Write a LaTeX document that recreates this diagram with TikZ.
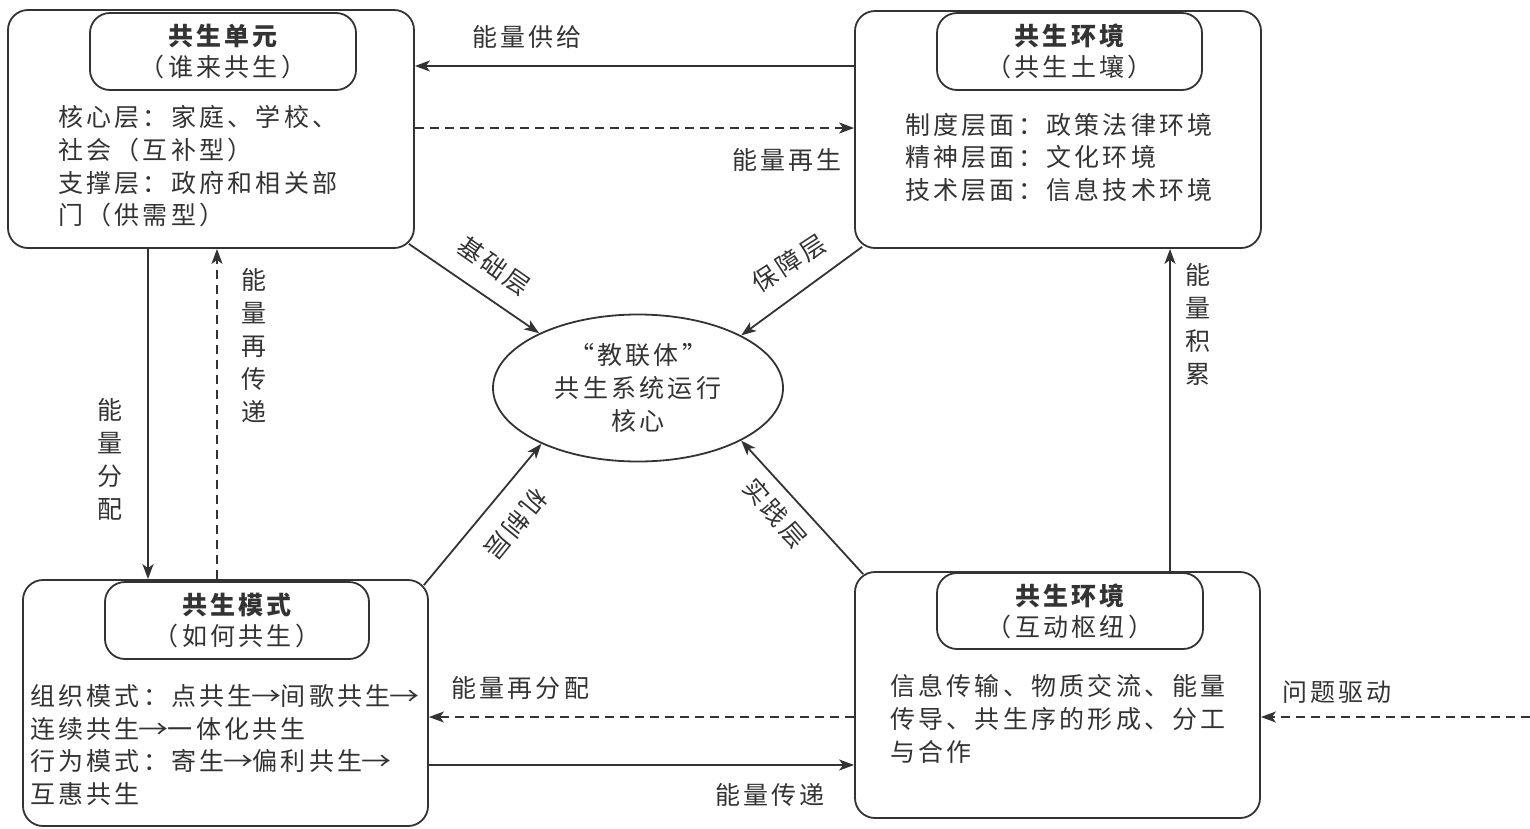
\documentclass[tikz,border=0pt]{standalone}
\usepackage{fontspec}
\setmainfont{Noto Sans CJK SC}[LetterSpace=13]
\usetikzlibrary{arrows.meta,shapes.geometric,calc}
\definecolor{ink}{HTML}{333333}
\newcommand\rarr{\makebox[28pt]{\scalebox{1.2}[1]{→}}}
\begin{document}
\begin{tikzpicture}[x=1pt,y=-1pt,
  every node/.style={text=ink,inner sep=0pt},
  outer/.style={draw=ink,line width=1.8pt,rounded corners=20pt,rectangle},
  titlebox/.style={draw=ink,line width=1.8pt,rounded corners=20pt,rectangle,align=center,
     font=\fontsize{25}{31}\selectfont},
  body/.style={align=left,anchor=west,font=\fontsize{25}{32.7}\selectfont},
  lab/.style={font=\fontsize{25}{33}\selectfont,align=center},
  arr/.style={draw=ink,line width=1.8pt,-{Stealth[length=15pt,width=11pt,inset=4pt]}},
  dsh/.style={arr,dash pattern=on 9pt off 6pt}]
\useasboundingbox (0,0) rectangle (1530,828);
% outer boxes
\node[outer,minimum width=406pt,minimum height=238pt] (A) at (211,129) {};
\node[outer,minimum width=406pt,minimum height=237pt] (B) at (1058,129.5) {};
\node[outer,minimum width=405pt,minimum height=246pt] (C) at (225.5,703) {};
\node[outer,minimum width=405pt,minimum height=246pt] (D) at (1057.5,695) {};
% title boxes
\node[titlebox,minimum width=266pt,minimum height=77pt] (At) at (223,51.5) {{\bfseries 共生单元}\\（谁来共生）};
\node[titlebox,minimum width=265pt,minimum height=77pt] (Bt) at (1069.5,51.5) {{\bfseries 共生环境}\\（共生土壤）};
\node[titlebox,minimum width=264pt,minimum height=77pt] (Ct) at (237,620.5) {{\bfseries 共生模式}\\（如何共生）};
\node[titlebox,minimum width=266pt,minimum height=76pt] (Dt) at (1070,611) {{\bfseries 共生环境}\\（互动枢纽）};
% bodies
\node[body] (Ab) at (58,166.5) {核心层：家庭、学校、\\社会（互补型）\\支撑层：政府和相关部\\门（供需型）};
\node[body] (Bb) at (905,157.5) {制度层面：政策法律环境\\精神层面：文化环境\\技术层面：信息技术环境};
\node[body] (Cb) at (30,745) {组织模式：点共生\rarr 间歌共生\rarr\\连续共生\rarr 一体化共生\\行为模式：寄生\rarr 偏利共生\rarr\\互惠共生};
\node[body] (Db) at (890,719) {信息传输、物质交流、能量\\传导、共生序的形成、分工\\与合作};
% ellipse
\node[draw=ink,line width=1.8pt,ellipse,minimum width=290pt,minimum height=147pt,align=center,
  font=\fontsize{25}{33}\selectfont] (E) at (638,388) {“教联体”\\共生系统运行\\核心};
% horizontal / vertical connectors
\draw[arr] (B.west |- 0,66) -- (A.east |- 0,66);
\draw[dsh] (A.east |- 0,128) -- (B.west |- 0,128);
\draw[arr] (A.south -| 148,0) -- (C.north -| 148,0);
\draw[dsh] (C.north -| 217,0) -- (A.south -| 217,0);
\draw[arr] (D.north -| 1170,0) -- (B.south -| 1170,0);
\draw[dsh] (D.west |- 0,717) -- (C.east |- 0,717);
\draw[arr] (C.east |- 0,765) -- (D.west |- 0,765);
\coordinate (Q) at (1530,717);
\draw[dsh] (Q) -- (D.east |- Q);
% diagonal connectors
\draw[arr] ($(A.south east)+(-6,-5)$) -- (E.151);
\draw[arr] ($(B.south west)+(8,-2)$) -- (E.27);
\draw[arr] ($(C.north east)+(-5,6)$) -- (E.210);
\draw[arr] ($(D.north west)+(9,3)$) -- (E.333);
% labels
\node[lab] (l1) at (527,37) {能量供给};
\node[lab] (l2) at (787,160) {能量再生};
\node[lab] (l3) at (110,459) {能\\量\\分\\配};
\node[lab] (l4) at (254,346) {能\\量\\再\\传\\递};
\node[lab] (l5) at (1198,324) {能\\量\\积\\累};
\node[lab] (l6) at (520,688) {能量再分配};
\node[lab] (l7) at (770,795) {能量传递};
\node[lab] (l8) at (1337,692) {问题驱动};
\node[lab,rotate=-35] (l9) at (494,266) {基础层};
\node[lab,rotate=33] (l10) at (789,263) {保障层};
\node[lab,rotate=231] (l11) at (516,524) {机制层};
\node[lab,rotate=-49] (l12) at (775,513) {实践层};
\end{tikzpicture}
\end{document}
